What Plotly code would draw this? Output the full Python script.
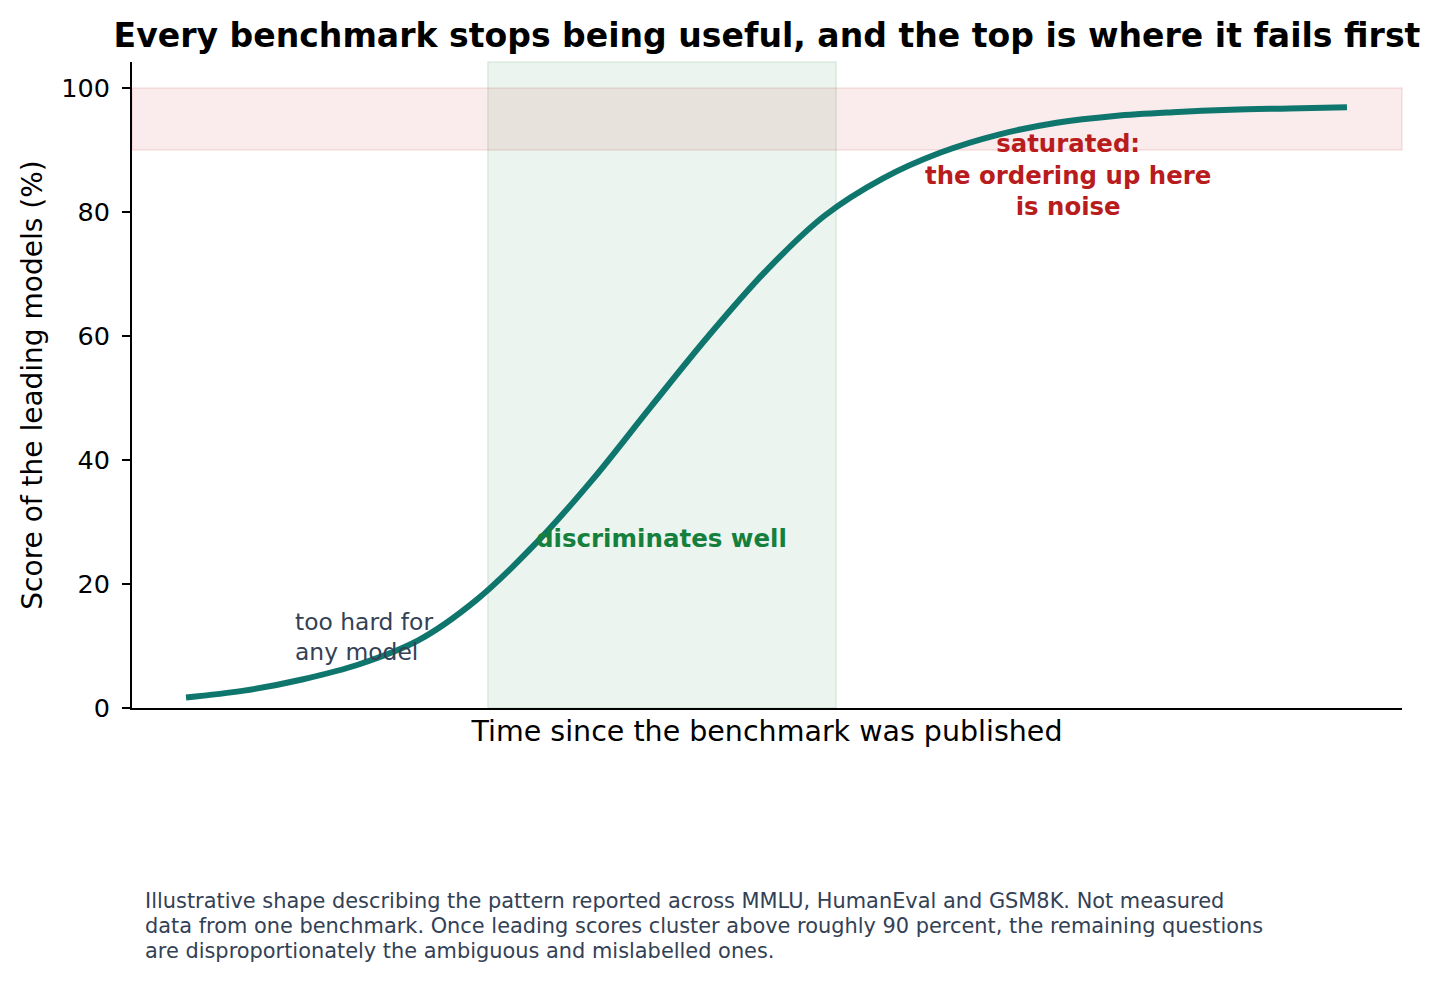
import plotly.graph_objects as go

# time since publication (arbitrary units) and leading-model score (%)
time_steps = [0, 0.5, 1, 1.5, 2, 2.5, 3, 3.5, 4, 4.5, 5, 5.5, 6, 6.5, 7, 7.5, 8, 8.5, 9, 9.5, 10]
top_scores = [1.7, 2.8, 4.6, 7.1, 10.9, 17.4, 26.3, 36.8, 48.5, 60.0, 70.6, 79.4,
              85.4, 89.6, 92.5, 94.4, 95.5, 96.1, 96.5, 96.7, 96.9]

useful_window = [2.6, 5.6]
saturated_band = [90, 100]
y_ticks = [0, 20, 40, 60, 80, 100]

footnote_lines = [
    "Illustrative shape describing the pattern reported across MMLU, HumanEval and GSM8K. Not measured",
    "data from one benchmark. Once leading scores cluster above roughly 90 percent, the remaining questions",
    "are disproportionately the ambiguous and mislabelled ones.",
]

FONT = "DejaVu Sans"
TEAL = "#0f766e"
RED = "#b91c1c"
GREEN = "#15803d"
SLATE = "#334155"

fig = go.Figure()

fig.add_trace(
    go.Scatter(
        x=time_steps,
        y=top_scores,
        mode="lines",
        line=dict(color=TEAL, width=6, shape="spline", smoothing=1),
        showlegend=False,
        hoverinfo="skip",
    )
)

# shaded regions
fig.add_shape(
    type="rect", xref="x", yref="paper",
    x0=useful_window[0], x1=useful_window[1], y0=0, y1=1,
    fillcolor="rgba(21,128,61,0.085)", line=dict(color="rgba(21,128,61,0.12)", width=1.5),
    layer="below",
)
fig.add_shape(
    type="rect", xref="paper", yref="y",
    x0=0, x1=1, y0=saturated_band[0], y1=saturated_band[1],
    fillcolor="rgba(200,40,40,0.085)", line=dict(color="rgba(200,40,40,0.12)", width=1.5),
    layer="below",
)

fig.add_annotation(
    x=7.6, y=86, xref="x", yref="y",
    text="<b>saturated:<br>the ordering up here<br>is noise</b>",
    showarrow=False, align="center",
    font=dict(family=FONT, size=24.4, color=RED),
)
fig.add_annotation(
    x=sum(useful_window) / 2, y=27.3, xref="x", yref="y",
    text="<b>discriminates well</b>",
    showarrow=False,
    font=dict(family=FONT, size=24.5, color=GREEN),
)
fig.add_annotation(
    x=0.92, y=11.5, xref="x", yref="y",
    text="too hard for<br>any model",
    showarrow=False, align="left", xanchor="left",
    font=dict(family=FONT, size=23.4, color=SLATE),
)
for i, line in enumerate(footnote_lines):
    fig.add_annotation(
        x=0.0087, y=-0.2988 - i * 0.0387, xref="paper", yref="paper",
        text=line,
        showarrow=False, align="left", xanchor="left", yanchor="middle",
        font=dict(family=FONT, size=20.9, color=SLATE),
    )

fig.update_layout(
    width=1440,
    height=986,
    margin=dict(l=124, r=46, t=54, b=286),
    paper_bgcolor="white",
    plot_bgcolor="white",
    font=dict(family=FONT, color="black"),
    title=dict(
        text="<b>Every benchmark stops being useful, and the top is where it fails first</b>",
        x=759 / 1440, xanchor="center", y=1 - 27 / 986, yanchor="middle",
        font=dict(family=FONT, size=33.1, color="black"),
    ),
    xaxis=dict(
        range=[-0.465, 10.474],
        showgrid=False, zeroline=False,
        showticklabels=False, ticks="",
        showline=True, linecolor="black", linewidth=2,
        title=dict(text="Time since the benchmark was published", standoff=12,
                   font=dict(family=FONT, size=28.5, color="black")),
    ),
    yaxis=dict(
        range=[0, 104.2],
        tickvals=y_ticks,
        showgrid=False, zeroline=False,
        ticks="outside", ticklen=8, tickwidth=1.5, tickcolor="black",
        ticklabelstandoff=7,
        tickfont=dict(family=FONT, size=25.5, color="black"),
        showline=True, linecolor="black", linewidth=2,
        title=dict(text="Score of the leading models (%)", standoff=10,
                   font=dict(family=FONT, size=28, color="black")),
    ),
)

fig.write_html("out.html")
